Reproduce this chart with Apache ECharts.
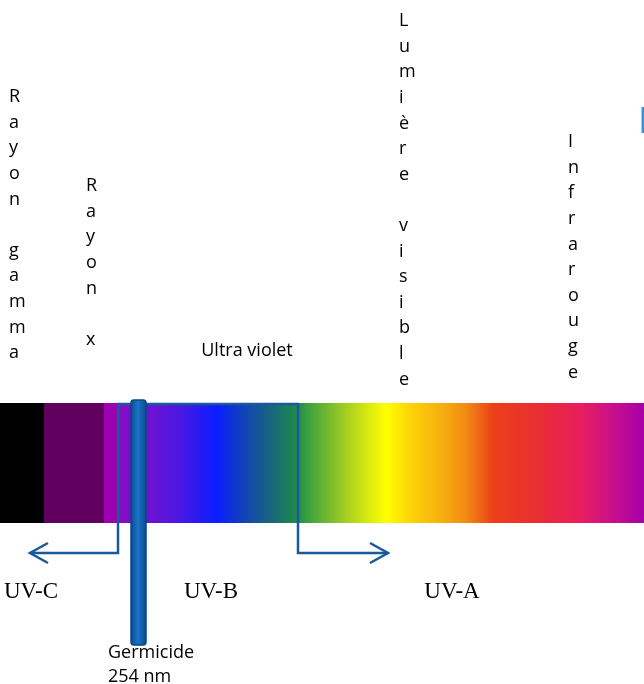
<!DOCTYPE html>
<html><head><meta charset="utf-8">
<script src="https://cdn.jsdelivr.net/npm/echarts@6/dist/echarts.min.js"></script>
<style>html,body{margin:0;padding:0;background:#fff}#c{width:644px;height:684px}</style>
</head><body><div id="c"></div>
<script>
// ---- Data (positions in spectrum-axis units 0–644, heights in layout units 0–684) ----
const solidBands = [[0, 44], [44, 104], [104, 118]];
const solidColors = ['#000000', '#620060', '#9c00b0'];
const gradientPositions = [118, 150, 180, 217, 245, 275, 297, 313, 347, 386, 413, 447, 467, 493, 533, 580, 613, 644];
const gradientColors = ['#8a0cc2', '#6c12d2', '#4a18e2', '#0a1eff', '#1244b4', '#186c74', '#1e8c48', '#4aa83a', '#a8d020', '#ffff00', '#fcd008', '#f6a810', '#f28814', '#ec4018', '#e83030', '#e81e5c', '#c8108c', '#a800a8'];
const spectrumTop = 403, spectrumBottom = 523;

const regionNames = ['Rayon gamma', 'Rayon x', 'Ultra violet', 'Lumière visible', 'Infrarouge'];
const regionLabelX = [9, 86, 247, 399, 568];
const regionLabelY = [97, 186, 351, 21, 142];
const regionVertical = [true, true, false, true, true];

const uvNames = ['UV-C', 'UV-B', 'UV-A'];
const uvLabelX = [31, 211, 452];
const uvLabelY = 592;
const uvBracket = [118, 298];
const bracketBottom = 553;
const arrowTips = [30, 388];

const germicideNm = 254;
const germicideX = [131, 146];
const germicideY = [400, 645];
const edgeMark = [641.5, 644, 107, 133];

// ---- Chart ----
const chart = echarts.init(document.getElementById('c'));
const LH = 25.6;
const sansFont = '"Open Sans", sans-serif';
const serifFont = '"Liberation Serif", "Times New Roman", serif';
const lineColor = '#1a5a9c';

const gradStops = gradientPositions.map((p, i) => ({
  offset: (p - gradientPositions[0]) / (gradientPositions[gradientPositions.length - 1] - gradientPositions[0]),
  color: gradientColors[i]
}));

function rectFrom(api, x0, x1, y0, y1) {
  const p0 = api.coord([x0, y0]);
  const p1 = api.coord([x1, y1]);
  return { x: p0[0], y: p0[1], width: p1[0] - p0[0], height: p1[1] - p0[1] };
}

chart.setOption({
  animation: false,
  grid: { left: 0, right: 0, top: 0, bottom: 0 },
  xAxis: { type: 'value', min: 0, max: 644, show: false },
  yAxis: { type: 'value', min: 0, max: 684, inverse: true, show: false },
  series: [
    { // solid bands
      type: 'custom', clip: false,
      data: solidBands.map((b, i) => [b[0], b[1], i]),
      renderItem: (params, api) => ({
        type: 'rect',
        shape: rectFrom(api, api.value(0), api.value(1), spectrumTop, spectrumBottom),
        style: { fill: solidColors[api.value(2)] }
      })
    },
    { // gradient spectrum
      type: 'custom', clip: false,
      data: [[gradientPositions[0], gradientPositions[gradientPositions.length - 1]]],
      renderItem: (params, api) => ({
        type: 'rect',
        shape: rectFrom(api, api.value(0), api.value(1), spectrumTop, spectrumBottom),
        style: { fill: new echarts.graphic.LinearGradient(0, 0, 1, 0, gradStops) }
      })
    },
    { // UV bracket with arrows
      type: 'custom', clip: false,
      data: [[uvBracket[0], uvBracket[1], arrowTips[0], arrowTips[1]]],
      renderItem: (params, api) => {
        const l = api.value(0), r = api.value(1), tl = api.value(2), tr = api.value(3);
        const st = { stroke: lineColor, lineWidth: 2.5, fill: null, lineJoin: 'miter' };
        const c = (x, y) => api.coord([x, y]);
        return {
          type: 'group',
          children: [
            { type: 'polyline', shape: { points: [c(tl, bracketBottom), c(l, bracketBottom), c(l, spectrumTop + 1), c(r, spectrumTop + 1), c(r, bracketBottom), c(tr, bracketBottom)] }, style: st },
            { type: 'polyline', shape: { points: [c(tl + 18, bracketBottom - 10), c(tl, bracketBottom), c(tl + 18, bracketBottom + 10)] }, style: st },
            { type: 'polyline', shape: { points: [c(tr - 18, bracketBottom - 10), c(tr, bracketBottom), c(tr - 18, bracketBottom + 10)] }, style: st }
          ]
        };
      }
    },
    { // germicide bar
      type: 'custom', clip: false,
      data: [[germicideX[0], germicideX[1], germicideY[0], germicideY[1], germicideNm]],
      renderItem: (params, api) => {
        const s = rectFrom(api, api.value(0), api.value(1), api.value(2), api.value(3));
        s.r = 3;
        const tp = api.coord([api.value(0) - 23, api.value(3) - 4]);
        return {
          type: 'group',
          children: [
            { type: 'rect', shape: s, style: { fill: new echarts.graphic.LinearGradient(0, 0, 1, 0, [
              { offset: 0, color: '#0b4a8c' }, { offset: 0.45, color: '#1a72c8' }, { offset: 1, color: '#0b4a8c' }]),
              stroke: '#0a4684', lineWidth: 1.5 } },
            { type: 'text', x: tp[0], y: tp[1], style: { text: 'Germicide\n' + api.value(4) + ' nm', font: '18px ' + sansFont, fill: '#000', align: 'left', verticalAlign: 'top', lineHeight: 24 } }
          ]
        };
      }
    },
    { // edge mark
      type: 'custom', clip: false,
      data: [edgeMark],
      renderItem: (params, api) => ({
        type: 'rect',
        shape: rectFrom(api, api.value(0), api.value(1), api.value(2), api.value(3)),
        style: { fill: '#3c8ee0' }
      })
    },
    { // region labels
      type: 'custom', clip: false,
      data: regionNames.map((n, i) => [regionLabelX[i], regionLabelY[i], i]),
      renderItem: (params, api) => {
        const i = api.value(2);
        const vertical = regionVertical[i];
        const p = api.coord([api.value(0), api.value(1)]);
        if (vertical) {
          return { type: 'text', x: p[0], y: p[1] - LH / 2, style: {
            text: regionNames[i].split('').join('\n'), font: '18px ' + sansFont, fill: '#000',
            align: 'left', verticalAlign: 'top', lineHeight: LH } };
        }
        return { type: 'text', x: p[0], y: p[1], style: {
          text: regionNames[i], font: '18px ' + sansFont, fill: '#000', align: 'center', verticalAlign: 'middle' } };
      }
    },
    { // UV labels
      type: 'custom', clip: false,
      data: uvNames.map((n, i) => [uvLabelX[i], uvLabelY, i]),
      renderItem: (params, api) => {
        const p = api.coord([api.value(0), api.value(1)]);
        return { type: 'text', x: p[0], y: p[1], style: {
          text: uvNames[api.value(2)], font: '23px ' + serifFont, fill: '#000', align: 'center', verticalAlign: 'middle' } };
      }
    }
  ]
});
</script></body></html>
